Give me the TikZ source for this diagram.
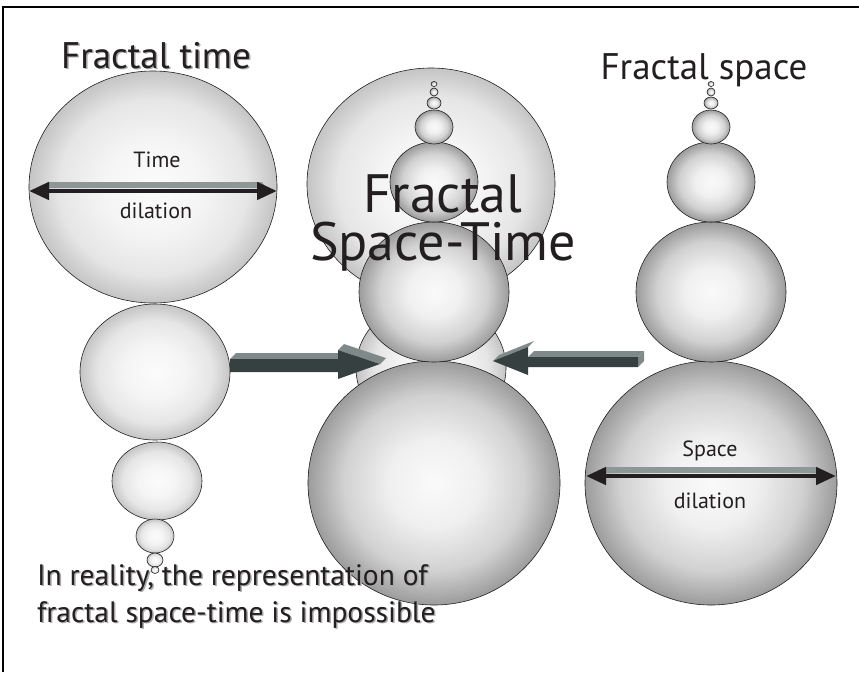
\documentclass[tikz,border=0pt]{standalone}
\usepackage{fontspec}
\setmainfont{PT Sans}
\usetikzlibrary{shapes.geometric,arrows.meta}
\definecolor{inkdark}{HTML}{231F20}
\definecolor{shadowgray}{HTML}{A9A9A9}
\definecolor{blockfront}{HTML}{364040}
\definecolor{blocktop}{HTML}{808989}
\definecolor{bandgray}{HTML}{8E9696}
\pgfdeclareradialshading{timeshade}{\pgfpoint{0bp}{0bp}}{%
  color(0bp)=(gray!3); color(10bp)=(gray!8); color(19bp)=(gray!20);
  color(25bp)=(gray!46); color(50bp)=(gray!46)}
\pgfdeclareradialshading{spaceshade}{\pgfpoint{0bp}{0bp}}{%
  color(0bp)=(gray!4); color(9bp)=(gray!12); color(18bp)=(gray!36);
  color(25bp)=(gray!78); color(50bp)=(gray!78)}

\begin{document}
\begin{tikzpicture}[
  x=1pt,
  y=-1pt,
  every node/.style={inner sep=0pt, outer sep=0pt, text=inkdark},
  timeball/.style={ellipse, draw=inkdark, line width=0.6pt, shading=timeshade},
  spaceball/.style={ellipse, draw=inkdark, line width=0.6pt, shading=spaceshade},
  bigtext/.style={font=\fontsize{37}{42}\selectfont},
  remtext/.style={font=\fontsize{29.5}{36}\selectfont},
  hugetext/.style={font=\fontsize{54}{60}\selectfont, text height=38pt, text depth=9pt},
  smalltext/.style={font=\fontsize{22}{26}\selectfont},
  shadowtext/.style={text=shadowgray},
  dilarrow/.style={inkdark, line width=4.5pt,
                   {Triangle[length=20pt,width=17pt]}-{Triangle[length=20pt,width=17pt]}},
  frameline/.style={black, line width=1.3pt}
]
  \useasboundingbox (0,0) rectangle (859,672);

  % ---- frame ----
  \draw[frameline] (3,672) -- (3,7) -- (859,7);

  % ---- fractal time, left column ----
  \foreach \n/\cx/\cy/\rx/\ry in {1/153/187/124/116, 2/155/372/75/68,
      3/157/481/45/39, 4/155/536/19/17, 5/155/560/8/7, 6/155/570/4/3.5}
    \node[timeball, minimum width=2*\rx, minimum height=2*\ry] (tl\n) at (\cx,\cy) {};

  % ---- fractal time behind the centre ----
  \foreach \n/\cx/\cy/\rx/\ry in {1/431/184/124/116, 2/431/368/75/68}
    \node[timeball, minimum width=2*\rx, minimum height=2*\ry] (tc\n) at (\cx,\cy) {};

  % ---- fractal space, right column and centre ----
  \foreach \n/\cy/\rx/\ry in {1/483/126/122, 2/292/75/70, 3/182/44/40,
      4/127/19/17, 5/103/7/6, 6/92/4/4, 7/84/3/2.5}
  {
    \node[spaceball, minimum width=2*\rx, minimum height=2*\ry] (sr\n) at (711,\cy) {};
    \node[spaceball, minimum width=2*\rx, minimum height=2*\ry] (sc\n) at (434,\cy) {};
  }

  % ---- dilation arrows ----
  \fill[bandgray] (48,182) -- (262,182) -- (266,188) -- (44,188) -- cycle;
  \coordinate (tdl) at (29,191);
  \coordinate (tdr) at (277,191);
  \draw[dilarrow] (tdl) -- (tdr);
  \fill[bandgray] (606,467) -- (816,467) -- (820,473) -- (602,473) -- cycle;
  \coordinate (sdl) at (586,476);
  \coordinate (sdr) at (836,476);
  \draw[dilarrow] (sdl) -- (sdr);

  \node[smalltext, anchor=base] (timelab) at (157,167) {Time};
  \node[smalltext, anchor=base] (timedil) at (156,218) {dilation};
  \node[smalltext, anchor=base] (spacelab) at (710,456) {Space};
  \node[smalltext, anchor=base] (spacedil) at (710,508) {dilation};

  % ---- block arrows into the centre ----
  \fill[blocktop] (230,359) -- (236,353) -- (344,353) -- (338,359) -- cycle;
  \fill[blocktop] (338,350) -- (344,344) -- (386,358) -- (380,364) -- cycle;
  \fill[blockfront] (230,359) -- (338,359) -- (338,350) -- (380,364)
    -- (338,379) -- (338,372) -- (230,372) -- cycle;

  \fill[blocktop] (528,357) -- (534,351) -- (644,351) -- (638,357) -- cycle;
  \fill[blocktop] (638,357) -- (644,351) -- (644,361) -- (638,367) -- cycle;
  \fill[blocktop] (493,361) -- (528,347) -- (534,341) -- (499,355) -- cycle;
  \fill[blockfront] (638,357) -- (528,357) -- (528,347) -- (493,361)
    -- (528,375) -- (528,367) -- (638,367) -- cycle;

  % ---- titles ----
  \node[bigtext, shadowtext, anchor=base] (ftimesh) at (157.5,69.5) {Fractal time};
  \node[bigtext, anchor=base] (ftime) at (156,68) {Fractal time};
  \node[bigtext, anchor=base] (fspace) at (704,79) {Fractal space};
  \node[hugetext, text depth=0pt, anchor=base] (fst1) at (443,212) {Fractal};
  \node[hugetext, anchor=base] (fst2) at (443,260) {Space-Time};

  % ---- bottom remark ----
  \node[remtext, shadowtext, anchor=base west] (rem1sh) at (38.5,586.5) {In reality, the representation of};
  \node[remtext, shadowtext, anchor=base west] (rem2sh) at (38.5,623.5) {fractal space-time is impossible};
  \node[remtext, anchor=base west] (rem1) at (37,585) {In reality, the representation of};
  \node[remtext, anchor=base west] (rem2) at (37,622) {fractal space-time is impossible};
\end{tikzpicture}
\end{document}
